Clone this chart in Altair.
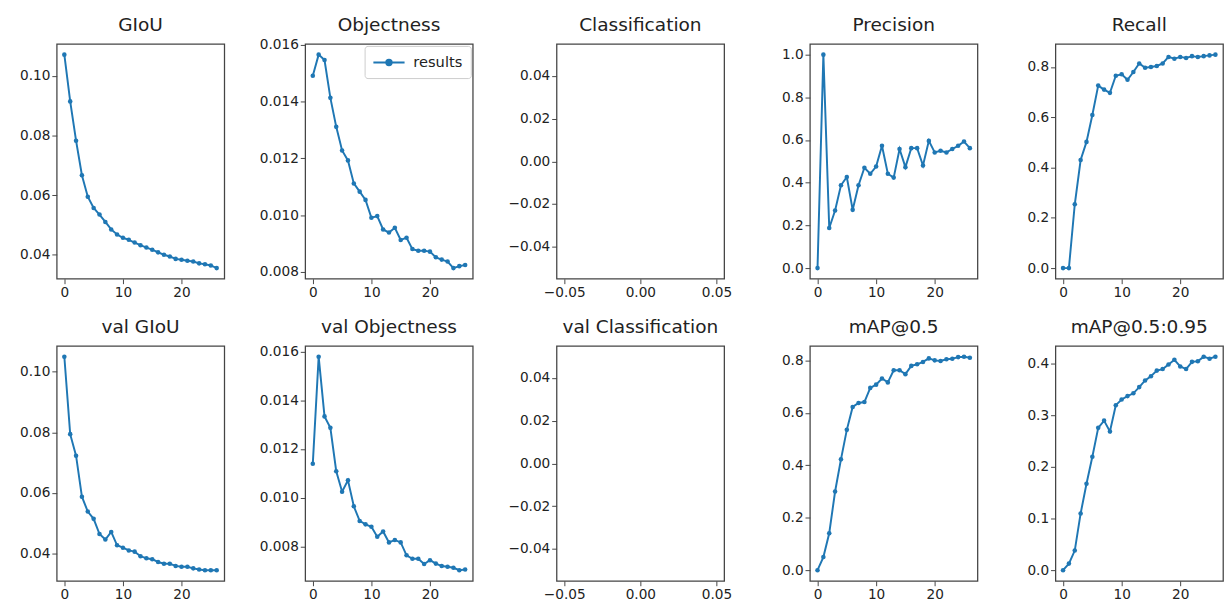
import altair as alt
import pandas as pd

epochs = list(range(27))

giou = [0.1072, 0.0915, 0.0783, 0.0667, 0.0595, 0.0557, 0.0535, 0.0510, 0.0485,
        0.0468, 0.0457, 0.0450, 0.0441, 0.0432, 0.0424, 0.0417, 0.0408, 0.0400,
        0.0394, 0.0386, 0.0383, 0.0380, 0.0377, 0.0371, 0.0368, 0.0364, 0.0355]
objectness = [0.01491, 0.01565, 0.01546, 0.01413, 0.01311, 0.01228, 0.01193, 0.01112,
              0.01083, 0.01054, 0.00991, 0.00997, 0.00950, 0.00939, 0.00956, 0.00913,
              0.00921, 0.00881, 0.00875, 0.00875, 0.00872, 0.00852, 0.00844, 0.00837,
              0.00814, 0.00821, 0.00825]
classification = []
precision = [0.0, 1.0, 0.188, 0.270, 0.388, 0.427, 0.273, 0.388, 0.470, 0.442, 0.476,
             0.573, 0.442, 0.424, 0.558, 0.473, 0.562, 0.562, 0.481, 0.596, 0.542,
             0.550, 0.542, 0.558, 0.573, 0.593, 0.562]
recall = [0.0, 0.0, 0.254, 0.430, 0.502, 0.609, 0.726, 0.710, 0.697, 0.765, 0.771,
          0.749, 0.780, 0.814, 0.797, 0.800, 0.804, 0.814, 0.840, 0.833, 0.840, 0.836,
          0.843, 0.840, 0.843, 0.846, 0.849]
val_giou = [0.1049, 0.0794, 0.0723, 0.0588, 0.0539, 0.0515, 0.0465, 0.0447, 0.0472,
            0.0428, 0.0420, 0.0411, 0.0407, 0.0392, 0.0385, 0.0382, 0.0373, 0.0367,
            0.0367, 0.0360, 0.0357, 0.0357, 0.0352, 0.0348, 0.0346, 0.0346, 0.0346]
val_objectness = [0.01140, 0.01579, 0.01334, 0.01287, 0.01109, 0.01025, 0.01072, 0.00965,
                  0.00905, 0.00891, 0.00881, 0.00840, 0.00862, 0.00817, 0.00827, 0.00817,
                  0.00764, 0.00750, 0.00750, 0.00728, 0.00744, 0.00730, 0.00720, 0.00717,
                  0.00713, 0.00703, 0.00706]
val_classification = []
map50 = [0.0, 0.050, 0.141, 0.300, 0.4225, 0.535, 0.6225, 0.6375, 0.641, 0.695, 0.7075,
         0.731, 0.716, 0.7625, 0.7625, 0.7475, 0.779, 0.785, 0.794, 0.8075, 0.800,
         0.7975, 0.804, 0.806, 0.8125, 0.814, 0.810]
map5095 = [0.0, 0.0127, 0.038, 0.110, 0.1675, 0.220, 0.276, 0.290, 0.269, 0.320, 0.331,
           0.3376, 0.343, 0.355, 0.368, 0.376, 0.387, 0.390, 0.399, 0.408, 0.395, 0.390,
           0.404, 0.405, 0.414, 0.410, 0.414]

BLUE = "#1f77b4"
FONT = "DejaVu Sans"
W, H = 172, 241

LEGEND_SYMBOL = ("M-2,0H2M-0.35,0A0.35,0.35,0,1,1,0.35,0"
                 "A0.35,0.35,0,1,1,-0.35,0Z")


def panel(title, values, yticks, yfmt, legend=False, toff=9):
    if values:
        df = pd.DataFrame({"epoch": epochs, "value": values,
                           "series": ["results"] * len(values)})
        lo, hi = min(values), max(values)
        r = hi - lo
        ydom = [lo - 0.05 * r, hi + 0.05 * r]
        xdom = [-1.3, 27.3]
        xticks, xfmt = [0, 10, 20], "d"
    else:
        df = pd.DataFrame({"epoch": pd.Series([], dtype=float),
                           "value": pd.Series([], dtype=float),
                           "series": pd.Series([], dtype=str)})
        ydom = [-0.055, 0.055]
        xdom = [-0.055, 0.055]
        xticks, xfmt = [-0.05, 0.0, 0.05], ".2f"

    x = alt.X("epoch:Q", title=None,
              scale=alt.Scale(domain=xdom, nice=False, zero=False),
              axis=alt.Axis(values=xticks, format=xfmt))
    y = alt.Y("value:Q", title=None,
              scale=alt.Scale(domain=ydom, nice=False, zero=False),
              axis=alt.Axis(values=yticks, format=yfmt))
    enc = dict(x=x, y=y)
    if legend:
        enc["color"] = alt.Color(
            "series:N", scale=alt.Scale(range=[BLUE]),
            legend=alt.Legend(title=None, orient="top-right", offset=2,
                              labelFontSize=15, labelFont=FONT, labelColor="#222",
                              strokeColor="#cccccc", fillColor="white",
                              padding=8, cornerRadius=3,
                              symbolType=LEGEND_SYMBOL, symbolSize=256,
                              symbolOffset=8, labelOffset=16,
                              symbolStrokeWidth=2, symbolStrokeColor=BLUE,
                              symbolFillColor=BLUE))
    mark = alt.Chart(df).mark_line(
        color=BLUE, strokeWidth=2,
        point=alt.OverlayMarkDef(filled=True, size=22, color=BLUE))
    return mark.encode(**enc).properties(
        width=W, height=H,
        title=alt.TitleParams(title, fontSize=19, font=FONT, fontWeight="normal",
                              color="#222", offset=toff, frame="group"))


f2 = ".2f"
f3 = ".3f"
f1 = ".1f"
cls_ticks = [-0.04, -0.02, 0.0, 0.02, 0.04]

row1 = alt.hconcat(
    panel("GIoU", giou, [0.04, 0.06, 0.08, 0.10], f2),
    panel("Objectness", objectness, [0.008, 0.010, 0.012, 0.014, 0.016], f3,
          legend=True, toff=3),
    panel("Classification", classification, cls_ticks, f2),
    panel("Precision", precision, [0.0, 0.2, 0.4, 0.6, 0.8, 1.0], f1),
    panel("Recall", recall, [0.0, 0.2, 0.4, 0.6, 0.8], f1),
    spacing=34,
).resolve_scale(color="independent")

row2 = alt.hconcat(
    panel("val GIoU", val_giou, [0.04, 0.06, 0.08, 0.10], f2),
    panel("val Objectness", val_objectness, [0.008, 0.010, 0.012, 0.014, 0.016], f3,
          toff=8),
    panel("val Classification", val_classification, cls_ticks, f2),
    panel("mAP@0.5", map50, [0.0, 0.2, 0.4, 0.6, 0.8], f1),
    panel("mAP@0.5:0.95", map5095, [0.0, 0.1, 0.2, 0.3, 0.4], f1),
    spacing=34,
).resolve_scale(color="independent")

chart = alt.vconcat(row1, row2, spacing=18).resolve_scale(
    color="independent"
).configure(
    padding={"left": 5, "top": 0, "right": 0, "bottom": 0},
    background="white",
).configure_view(
    stroke="#444444", strokeWidth=1.3
).configure_axis(
    grid=False, domain=False, ticks=True, tickColor="#444444", tickSize=5,
    tickWidth=1, labelFont=FONT, labelFontSize=14, labelColor="#222",
    labelPadding=2, labelFlush=False, labelOverlap=False,
).configure_axisY(
    minExtent=44, maxExtent=44,
)

chart.save("out.html", embed_options={"renderer": "svg", "actions": False})
